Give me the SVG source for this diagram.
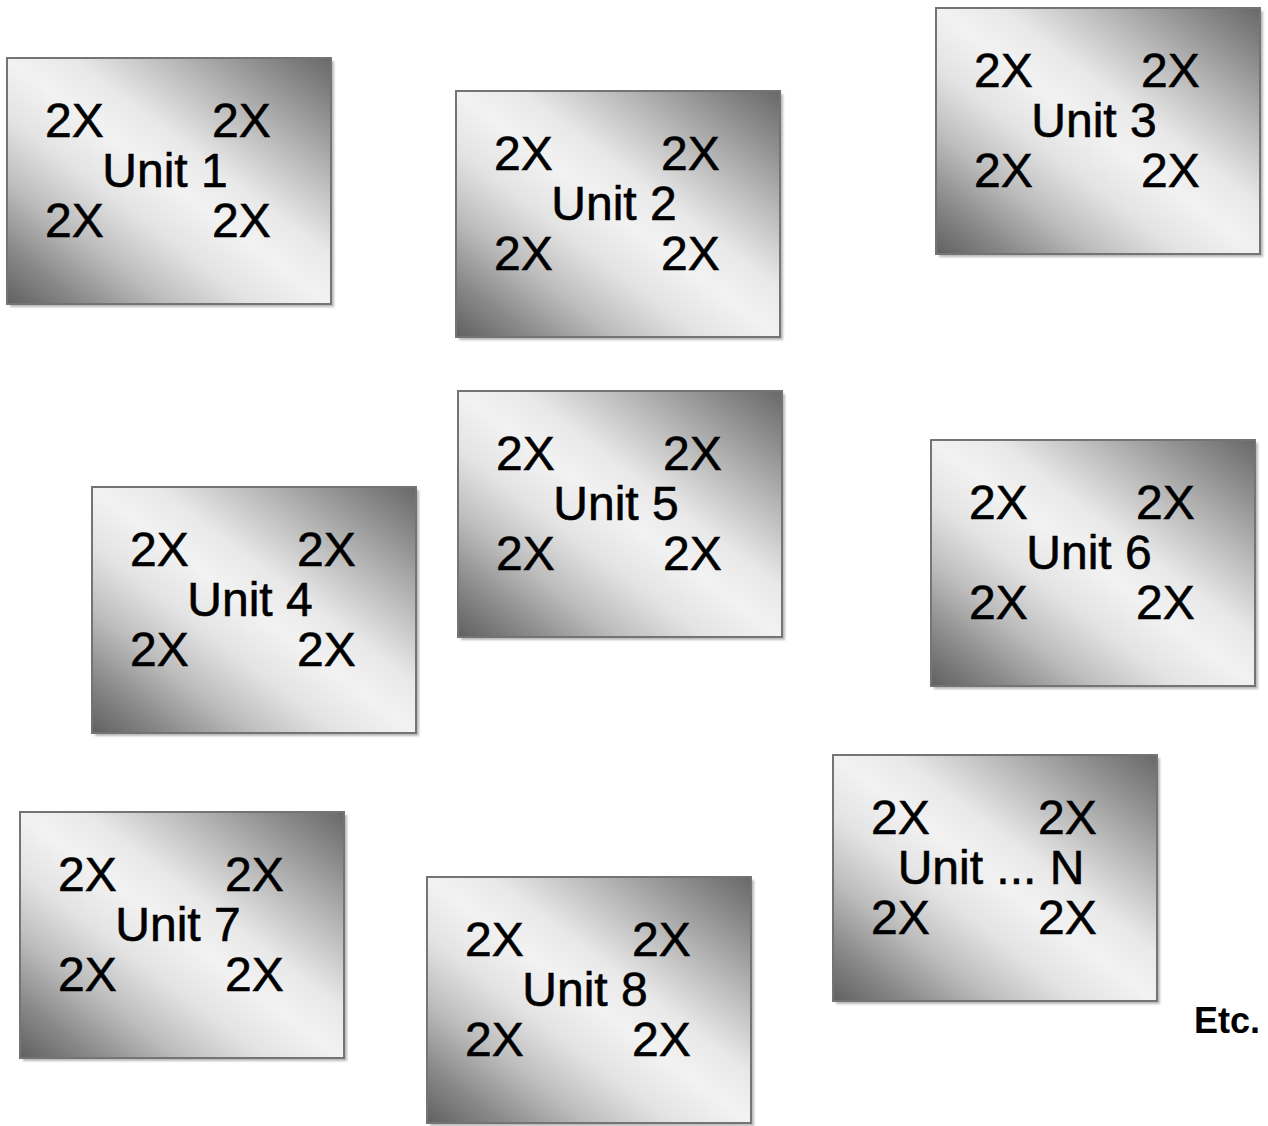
<svg xmlns="http://www.w3.org/2000/svg" width="1268" height="1126" viewBox="0 0 1268 1126">
<defs>
<linearGradient id="g" x1="0" y1="1" x2="1" y2="0">
<stop offset="0" stop-color="#606060"/>
<stop offset="0.12" stop-color="#8a8a8a"/>
<stop offset="0.25" stop-color="#bdbdbd"/>
<stop offset="0.38" stop-color="#e3e3e3"/>
<stop offset="0.5" stop-color="#f2f2f2"/>
<stop offset="0.6" stop-color="#e8e8e8"/>
<stop offset="0.74" stop-color="#bcbcbc"/>
<stop offset="0.88" stop-color="#8e8e8e"/>
<stop offset="1" stop-color="#686868"/>
</linearGradient>
<filter id="blur" x="-5%" y="-5%" width="110%" height="110%"><feGaussianBlur stdDeviation="1"/></filter>
</defs>
<style>
.sh{fill:#b8b8b8;filter:url(#blur)}
.bx{fill:url(#g);stroke:#747474;stroke-width:2}
text{font-family:"Liberation Sans",Arial,Helvetica,sans-serif;font-size:48px;fill:#000;stroke:#000;stroke-width:0.6}
.m{text-anchor:middle}
.etc{font-weight:bold;font-size:36px;stroke-width:0}
</style>
<rect width="1268" height="1126" fill="#fff"/>
<g id="unit1" transform="translate(7,58)">
<rect class="sh" x="3" y="3" width="324" height="246"/>
<rect class="bx" x="0" y="0" width="324" height="246"/>
<text x="38" y="79">2X</text><text x="205" y="79">2X</text>
<text class="m" x="158" y="129">Unit 1</text>
<text x="38" y="179">2X</text><text x="205" y="179">2X</text>
</g>
<g id="unit2" transform="translate(456,91)">
<rect class="sh" x="3" y="3" width="324" height="246"/>
<rect class="bx" x="0" y="0" width="324" height="246"/>
<text x="38" y="79">2X</text><text x="205" y="79">2X</text>
<text class="m" x="158" y="129">Unit 2</text>
<text x="38" y="179">2X</text><text x="205" y="179">2X</text>
</g>
<g id="unit3" transform="translate(936,8)">
<rect class="sh" x="3" y="3" width="324" height="246"/>
<rect class="bx" x="0" y="0" width="324" height="246"/>
<text x="38" y="79">2X</text><text x="205" y="79">2X</text>
<text class="m" x="158" y="129">Unit 3</text>
<text x="38" y="179">2X</text><text x="205" y="179">2X</text>
</g>
<g id="unit4" transform="translate(92,487)">
<rect class="sh" x="3" y="3" width="324" height="246"/>
<rect class="bx" x="0" y="0" width="324" height="246"/>
<text x="38" y="79">2X</text><text x="205" y="79">2X</text>
<text class="m" x="158" y="129">Unit 4</text>
<text x="38" y="179">2X</text><text x="205" y="179">2X</text>
</g>
<g id="unit5" transform="translate(458,391)">
<rect class="sh" x="3" y="3" width="324" height="246"/>
<rect class="bx" x="0" y="0" width="324" height="246"/>
<text x="38" y="79">2X</text><text x="205" y="79">2X</text>
<text class="m" x="158" y="129">Unit 5</text>
<text x="38" y="179">2X</text><text x="205" y="179">2X</text>
</g>
<g id="unit6" transform="translate(931,440)">
<rect class="sh" x="3" y="3" width="324" height="246"/>
<rect class="bx" x="0" y="0" width="324" height="246"/>
<text x="38" y="79">2X</text><text x="205" y="79">2X</text>
<text class="m" x="158" y="129">Unit 6</text>
<text x="38" y="179">2X</text><text x="205" y="179">2X</text>
</g>
<g id="unit7" transform="translate(20,812)">
<rect class="sh" x="3" y="3" width="324" height="246"/>
<rect class="bx" x="0" y="0" width="324" height="246"/>
<text x="38" y="79">2X</text><text x="205" y="79">2X</text>
<text class="m" x="158" y="129">Unit 7</text>
<text x="38" y="179">2X</text><text x="205" y="179">2X</text>
</g>
<g id="unit8" transform="translate(427,877)">
<rect class="sh" x="3" y="3" width="324" height="246"/>
<rect class="bx" x="0" y="0" width="324" height="246"/>
<text x="38" y="79">2X</text><text x="205" y="79">2X</text>
<text class="m" x="158" y="129">Unit 8</text>
<text x="38" y="179">2X</text><text x="205" y="179">2X</text>
</g>
<g id="unitN" transform="translate(833,755)">
<rect class="sh" x="3" y="3" width="324" height="246"/>
<rect class="bx" x="0" y="0" width="324" height="246"/>
<text x="38" y="79">2X</text><text x="205" y="79">2X</text>
<text class="m" x="158" y="129">Unit ... N</text>
<text x="38" y="179">2X</text><text x="205" y="179">2X</text>
</g>
<g id="connectors"/>
<g id="etc"><text class="etc" x="1194" y="1033">Etc.</text></g>
</svg>
